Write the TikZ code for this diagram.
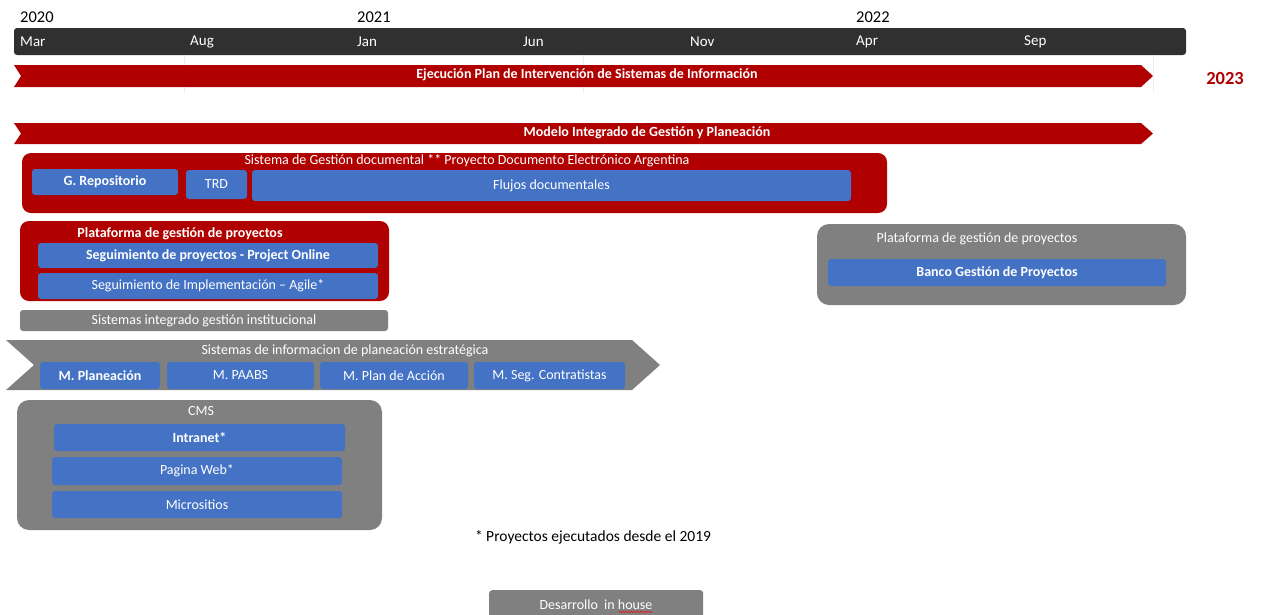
\documentclass[tikz,border=0pt]{standalone}
\usepackage{fontspec}
\setmainfont{Carlito}
\usetikzlibrary{decorations.pathmorphing}

\definecolor{barDark}{HTML}{303030}
\definecolor{planRed}{HTML}{B00000}
\definecolor{modBlue}{HTML}{4472C4}
\definecolor{panelGray}{HTML}{808080}
\definecolor{gridLine}{HTML}{EEEEEE}

% box from its corner coordinates: style, name, x1, y1, x2, y2, text
\newcommand\panelbox[7]{%
  \node[#1, minimum width={#5-#3}, minimum height={#6-#4}]
    (#2) at ({(#3+#5)/2},{(#4+#6)/2}) {#7};}

\begin{document}
\begin{tikzpicture}[x=1pt,y=-1pt,
  boxtxt/.style={font=\fontsize{14}{16}\selectfont, text=white},
  boldtxt/.style={font=\bfseries\fontsize{14}{16}\selectfont},
  box/.style={boxtxt, inner sep=0pt, rounded corners=3pt},
  bluebox/.style={box, fill=modBlue},
  graybox/.style={box, fill=panelGray},
  redpanel/.style={inner sep=0pt, fill=planRed, rounded corners=9pt},
  graypanel/.style={inner sep=0pt, fill=panelGray, rounded corners=12pt},
  title/.style={boxtxt, inner sep=0pt},
  arrowtxt/.style={font=\bfseries\fontsize{14}{16}\selectfont, text=white, inner sep=0pt},
  yearlbl/.style={font=\fontsize{16.5}{18}\selectfont, text=black, anchor=west, inner sep=0pt},
  monthlbl/.style={font=\fontsize{15}{17}\selectfont, text=white, anchor=west, inner sep=0pt}
]
\useasboundingbox (0,0) rectangle (1264,614);

% ---- time axis ----
\node[yearlbl] (y2020) at (20,17) {2020};
\node[yearlbl] (y2021) at (357,17) {2021};
\node[yearlbl] (y2022) at (856,17) {2022};
\fill[barDark, rounded corners=3pt] (14,28) rectangle (1186,55);
\node[monthlbl] (mMar) at (20,42) {Mar};
\node[monthlbl] (mAug) at (190,42) {Aug};
\node[monthlbl] (mJan) at (357,42) {Jan};
\node[monthlbl] (mJun) at (523,42) {Jun};
\node[monthlbl] (mNov) at (690,42) {Nov};
\node[monthlbl] (mApr) at (856,42) {Apr};
\node[monthlbl] (mSep) at (1024,42) {Sep};
\draw[gridLine, line width=0.8pt] (184,55) -- (184,93) (583,55) -- (583,93) (1153,55) -- (1153,93);

% ---- long red arrows ----
\fill[planRed] (14,65) -- (1141,65) -- (1153,76) -- (1141,87) -- (14,87) -- (21,76) -- cycle;
\node[arrowtxt] (plan) at (587,75) {Ejecución Plan de Intervención de Sistemas de Información};
\node[font=\bfseries\fontsize{18.5}{20}\selectfont, text=planRed, inner sep=0pt] (y2023) at (1225,78) {2023};

\fill[planRed] (14,123) -- (1141,123) -- (1153,133.5) -- (1141,144) -- (14,144) -- (21,133.5) -- cycle;
\node[arrowtxt] (modelo) at (647,132.5) {Modelo Integrado de Gestión y Planeación};

% ---- document management ----
\panelbox{redpanel}{sgd}{22}{153}{887}{213}{}
\node[title] (sgdT) at (467,161) {Sistema de Gestión documental ** Proyecto Documento Electrónico Argentina};
\panelbox{bluebox, boldtxt}{repo}{32}{169}{178}{195}{G. Repositorio}
\panelbox{bluebox}{trd}{186}{170}{247}{199}{TRD}
\panelbox{bluebox}{flujos}{252}{170}{851}{201}{Flujos documentales}

% ---- project platform (left) ----
\panelbox{redpanel}{plat}{20}{221}{389}{301}{}
\node[title, boldtxt] (platT) at (180,234) {Plataforma de gestión de proyectos};
\panelbox{bluebox, boldtxt}{segA}{38}{243}{378}{268}{Seguimiento de proyectos - Project Online}
\panelbox{bluebox}{segB}{38}{273}{378}{299}{Seguimiento de Implementación – Agile*}
\panelbox{graybox}{sigi}{20}{310}{388}{331}{Sistemas integrado gestión institucional}

% ---- strategic planning chevron ----
\fill[panelGray] (6,340) -- (632,340) -- (660,365) -- (632,390) -- (6,390) -- (34,365) -- cycle;
\node[title] (estT) at (345,351) {Sistemas de informacion de planeación estratégica};
\panelbox{bluebox, boldtxt}{mPlan}{40}{362}{160}{389}{M. Planeación}
\panelbox{bluebox}{mPaabs}{167}{362}{314}{389}{M. PAABS}
\panelbox{bluebox}{mAccion}{320}{362}{468}{389}{M. Plan de Acción}
\panelbox{bluebox}{mSeg}{474}{362}{625}{389}{M. Seg. Contratistas}

% ---- CMS ----
\panelbox{graypanel}{cms}{17}{400}{382}{530}{}
\node[title] (cmsT) at (201,411) {CMS};
\panelbox{bluebox, boldtxt}{intranet}{54}{424}{345}{451}{Intranet*}
\panelbox{bluebox}{web}{52}{457}{342}{485}{Pagina Web*}
\panelbox{bluebox}{micro}{52}{491}{342}{518}{Micrositios}

% ---- project platform (right) ----
\panelbox{graypanel}{platR}{817}{224}{1186}{305}{}
\node[title] (platRT) at (977,239) {Plataforma de gestión de proyectos};
\panelbox{bluebox, boldtxt}{banco}{828}{259}{1166}{286}{Banco Gestión de Proyectos}

% ---- notes ----
\node[font=\fontsize{15.5}{18}\selectfont, inner sep=0pt] (nota) at (593,537) {* Proyectos ejecutados desde el 2019};
\node[graybox, minimum width=214, minimum height=30, anchor=north west] (inhouse) at (489,590) {};
\node[title] (inhouseT) at (596,605) {Desarrollo\hspace{3pt} in house};
\draw[red, line width=0.5pt, decorate, decoration={snake, amplitude=0.7pt, segment length=3pt}]
  ([xshift=-34pt, yshift=-2pt]inhouseT.base east) -- ([yshift=-2pt]inhouseT.base east);
\end{tikzpicture}
\end{document}
